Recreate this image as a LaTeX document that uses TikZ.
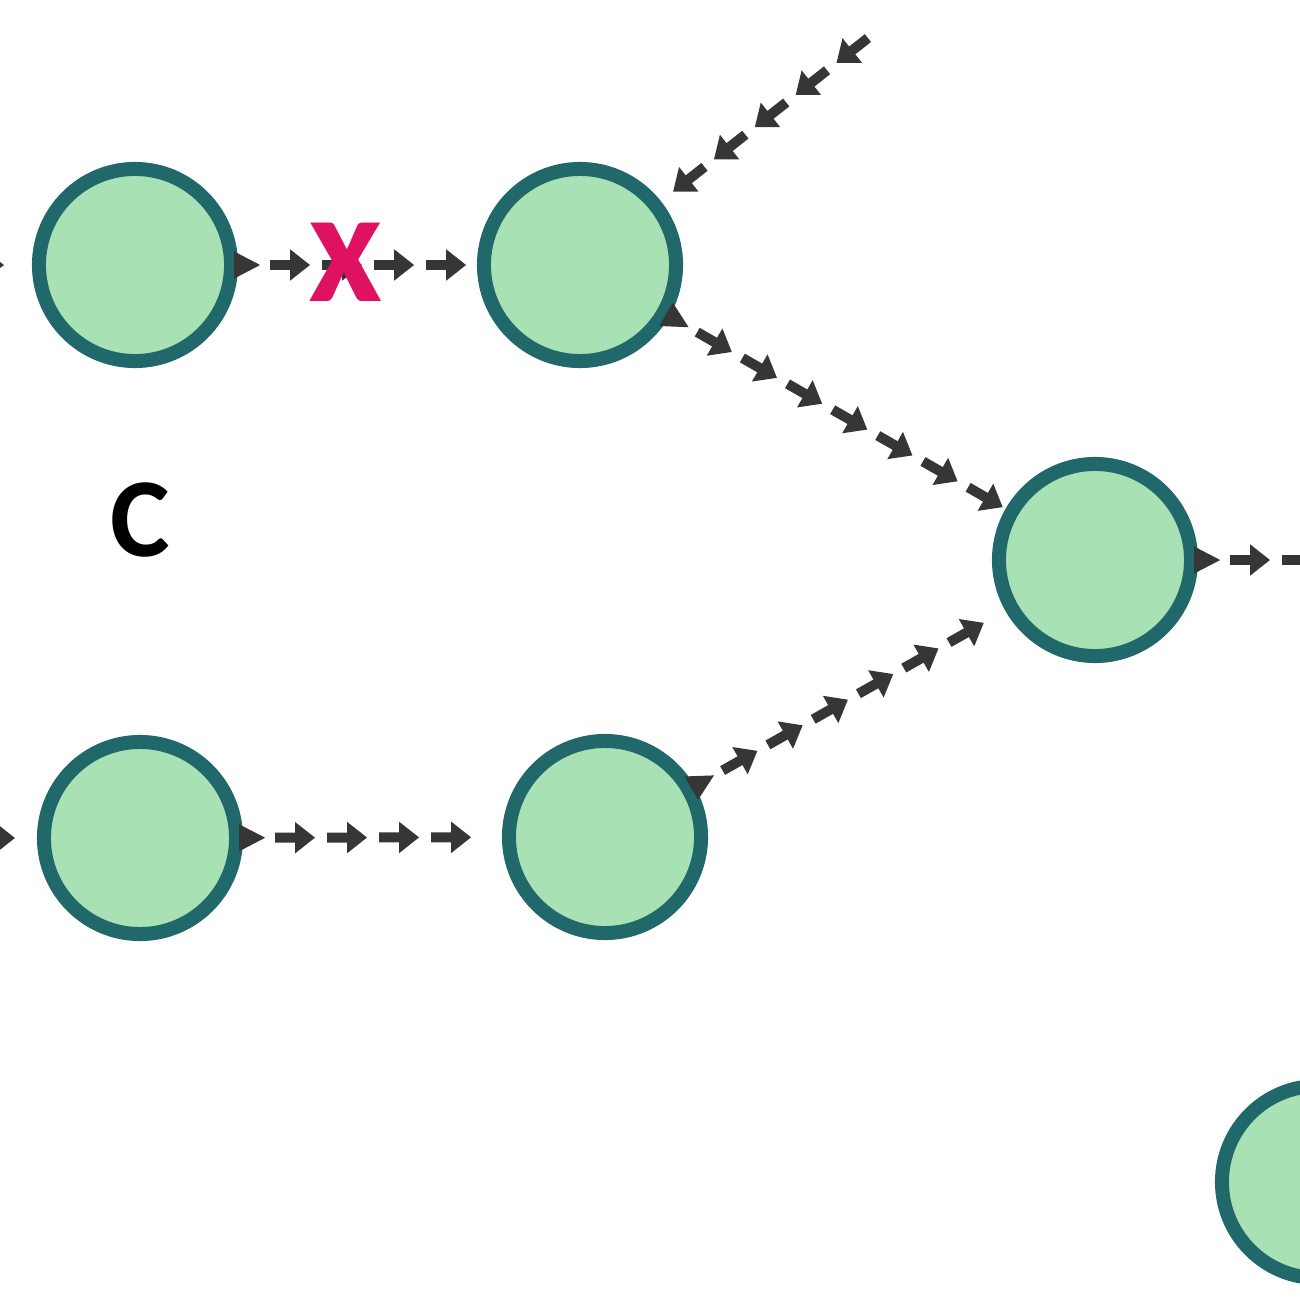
\documentclass[tikz,border=0pt]{standalone}
\usepackage{fontspec}
\setmainfont{Carlito}
\usetikzlibrary{arrows.meta,decorations.markings}
\definecolor{nodefill}{HTML}{A8E1B4}
\definecolor{nodeedge}{HTML}{21686A}
\definecolor{arrowcol}{HTML}{363636}
\definecolor{crossred}{HTML}{DE1260}
\newcommand\flowwedge{\fill[arrowcol] (-0.04cm,0.135cm) -- (0.22cm,0cm) -- (-0.04cm,-0.135cm) -- cycle;}
\newcommand\flowarrow{\draw[arrowcol,line width=0.1cm,-{Triangle[length=0.2cm,width=0.3cm]}] (0cm,0cm) -- (0.40cm,0cm);}
\tikzset{
  state/.style={circle, draw=nodeedge, fill=nodefill, line width=0.14cm, minimum size=1.92cm, inner sep=0pt},
  flow/.style={decorate, decoration={markings,
      mark=at position 0.001cm with {\flowwedge},
      mark=between positions 0.32cm and #1 step 0.52cm with {\flowarrow}}},
  inflow/.style={decorate, decoration={markings,
      mark=between positions 0.001cm and #1 step 0.52cm with {\flowarrow}}},
  stub/.style={decorate, decoration={markings,
      mark=at position #1 with {\flowarrow}}},
  lbl/.style={font=\bfseries\fontsize{32pt}{32pt}\selectfont, inner sep=0pt},
}
\begin{document}
\begin{tikzpicture}[x=0.01cm,y=-0.01cm]
\useasboundingbox (0,0) rectangle (1300,1300);
\clip (0,0) rectangle (1300,1300);
\node[state] (A) at (135,265) {};
\node[state] (B) at (580,265) {};
\node[state] (D) at (1095,560) {};
\node[state] (E) at (140,838) {};
\node[state] (F) at (605,837) {};
\node[state] (G) at (1318,1182) {};
\coordinate (inA) at (-80,265);
\coordinate (inE) at (-80,838);
\coordinate (inB) at (868,38);
\coordinate (outD) at (1380,560);
\path[stub=0.44cm] (inA) -- (A);
\path[stub=0.55cm] (inE) -- (E);
\path[flow=1.89cm] (A) -- (B);
\path[inflow=2.09cm] (inB) -- (B);
\path[flow=3.45cm] (B) -- (D);
\path[flow=1.89cm] (E) -- (F);
\path[flow=2.93cm] (F) -- (D);
\path[flow=0.85cm] (D) -- (outD);
\node[lbl] (lblC) at (140,520) {C};
\node[lbl, text=crossred, font=\bfseries\fontsize{46pt}{46pt}\selectfont] (cross) at (346,262) {x};
\end{tikzpicture}
\end{document}
